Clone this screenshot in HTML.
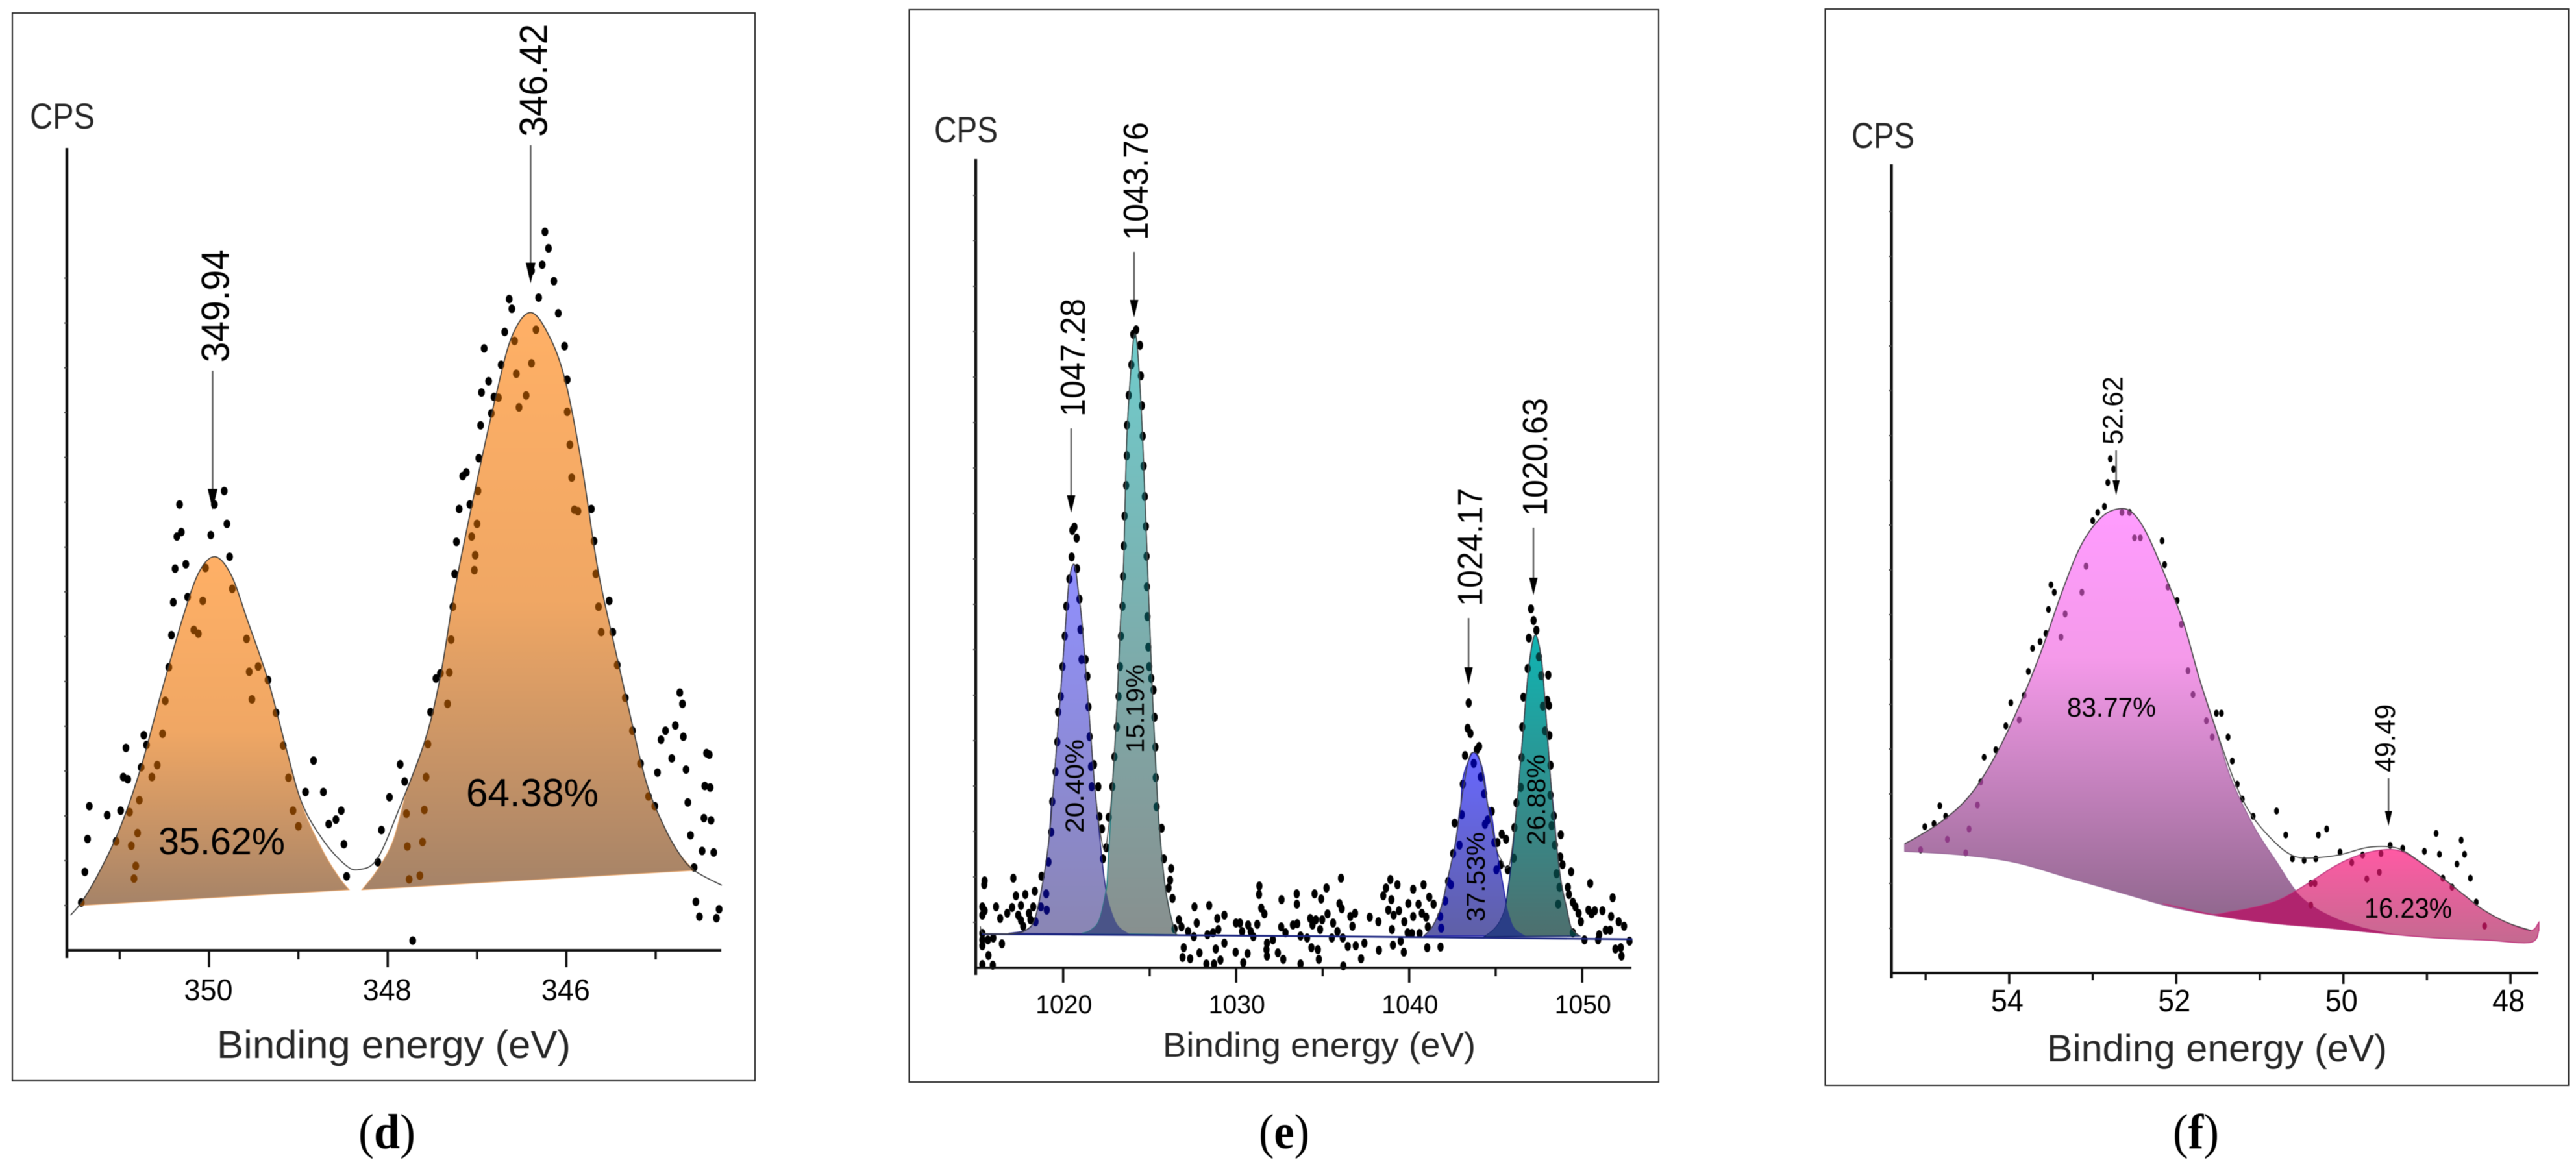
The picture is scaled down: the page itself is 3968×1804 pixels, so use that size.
<!DOCTYPE html>
<html lang="en">
<head>
<meta charset="utf-8">
<title>XPS binding energy spectra (d), (e), (f)</title>
<style>
html,body{margin:0;padding:0;background:#fff;}
body{width:3968px;height:1804px;overflow:hidden;position:relative;}
svg{position:absolute;left:0;top:0;display:block;filter:blur(0.6px);}
text{font-family:"Liberation Sans",Arial,sans-serif;fill:#000;}
.axis-title{fill:#262626;}
.caption{font-family:"Liberation Serif",serif;font-size:76px;}
.caption tspan{font-weight:bold;}
</style>
</head>
<body>
<svg id="chart" width="3968" height="1804" viewBox="0 0 3968 1804" xmlns="http://www.w3.org/2000/svg">
<defs>
<linearGradient id="gradOrange" x1="0" y1="0" x2="0" y2="1"><stop offset="0" stop-color="#FFB066"/><stop offset="0.5" stop-color="#F0A764"/><stop offset="1" stop-color="#A58368"/></linearGradient>
<linearGradient id="gradBlueA" x1="0" y1="0" x2="0" y2="1"><stop offset="0" stop-color="#9090FF"/><stop offset="1" stop-color="#8A86B4"/></linearGradient>
<linearGradient id="gradTealB" x1="0" y1="0" x2="0" y2="1"><stop offset="0" stop-color="#70CCCC"/><stop offset="1" stop-color="#88908F"/></linearGradient>
<linearGradient id="gradBlueC" x1="0" y1="0" x2="0" y2="1"><stop offset="0" stop-color="#6868FF"/><stop offset="1" stop-color="#5F60A6"/></linearGradient>
<linearGradient id="gradTealD" x1="0" y1="0" x2="0" y2="1"><stop offset="0" stop-color="#10B4B2"/><stop offset="1" stop-color="#4E6F6E"/></linearGradient>
<linearGradient id="gradPink" x1="0" y1="0" x2="0" y2="1"><stop offset="0" stop-color="#FF9CFF"/><stop offset="0.35" stop-color="#F59AEA"/><stop offset="1" stop-color="#8A6488"/></linearGradient>
<linearGradient id="gradRose" x1="0" y1="0" x2="0" y2="1"><stop offset="0" stop-color="#FF5AA4"/><stop offset="1" stop-color="#C46A90"/></linearGradient>
</defs>

<g id="panel-d">
<rect x="19" y="20" width="1144" height="1645" fill="#fff" stroke="#222" stroke-width="2"/>
<text class="axis-title" x="46" y="198" font-size="56" textLength="100" lengthAdjust="spacingAndGlyphs">CPS</text>
<text class="axis-title" x="334" y="1630" font-size="60" textLength="545" lengthAdjust="spacingAndGlyphs">Binding energy (eV)</text>
</g>
<g id="panel-e">
<rect x="1400.5" y="15" width="1154.5" height="1652" fill="#fff" stroke="#222" stroke-width="2"/>
<text class="axis-title" x="1439" y="219" font-size="56" textLength="98" lengthAdjust="spacingAndGlyphs">CPS</text>
<text class="axis-title" x="1791" y="1628" font-size="53" textLength="482" lengthAdjust="spacingAndGlyphs">Binding energy (eV)</text>
</g>
<g id="panel-f">
<rect x="2811.5" y="14" width="1145" height="1658" fill="#fff" stroke="#222" stroke-width="2"/>
<text class="axis-title" x="2852" y="228" font-size="56" textLength="97" lengthAdjust="spacingAndGlyphs">CPS</text>
<text class="axis-title" x="3153" y="1635" font-size="58" textLength="524" lengthAdjust="spacingAndGlyphs">Binding energy (eV)</text>
</g>

<text class="caption" x="552" y="1769" textLength="88" lengthAdjust="spacingAndGlyphs">(<tspan>d</tspan>)</text>
<text class="caption" x="1939" y="1769" textLength="78" lengthAdjust="spacingAndGlyphs">(<tspan>e</tspan>)</text>
<text class="caption" x="3347" y="1769" textLength="71" lengthAdjust="spacingAndGlyphs">(<tspan>f</tspan>)</text>
</svg>

<script>
/* ---------- Panel (d) data: [binding energy eV, counts (a.u.)] ---------- */
const dMajorTicks=[350,348,346];
const dMinorTicks=[351,349,347,345];
const dTickLabels=['350','348','346'];
const dCountTicks=[60,120,180,240,300,360,420,480,540,600,660,720,780,840,900];
const dPeakLabels=['349.94','346.42'];
const dPeakEnergy=[349.96,346.40];
const dArrowTail=[776,1078];
const dArrowTip=[590,893];
const dScatter=[[351.39,105],[351.36,149],[351.34,193],[351.14,181],[351.43,64],[351.04,146],[350.99,187],[350.93,271],[350.96,232],[350.91,229],[350.89,185],[350.87,140],[350.82,113],[350.84,96],[350.80,157],[350.78,201],[350.76,245],[350.73,288],[350.70,275],[350.64,232],[350.58,248],[350.52,290],[350.49,334],[350.45,379],[350.42,422],[350.40,466],[350.38,511],[350.36,554],[350.33,597],[350.31,560],[350.26,517],[350.24,473],[350.17,429],[350.12,424],[350.07,468],[350.04,512],[349.98,556],[349.94,597],[349.83,615],[349.80,571],[349.77,527],[349.74,484],[349.58,417],[349.55,373],[349.45,380],[349.34,362],[349.52,336],[349.25,318],[349.17,274],[349.11,231],[349.06,187],[349.00,166],[348.92,212],[348.83,254],[348.72,212],[348.66,169],[348.58,175],[348.52,187],[348.49,142],[348.46,99],[348.11,118],[348.07,161],[347.98,205],[347.86,249],[347.81,226],[347.79,183],[347.78,139],[347.76,95],[347.64,100],[347.61,145],[347.59,188],[347.57,232],[347.55,276],[347.52,319],[347.46,364],[347.41,371],[347.33,330],[347.31,372],[347.29,416],[347.27,460],[347.25,504],[347.03,509],[347.02,529],[347.06,554],[347.00,571],[347.08,597],[347.20,591],[347.23,547],[347.16,635],[347.12,640],[346.99,615],[346.98,659],[346.96,703],[346.95,747],[346.92,806],[346.87,762],[346.84,719],[346.81,741],[346.76,740],[346.73,784],[346.69,828],[346.64,872],[346.61,859],[346.58,816],[346.56,772],[346.53,727],[346.45,743],[346.39,786],[346.34,831],[346.39,910],[346.31,874],[346.27,918],[346.24,962],[346.20,940],[346.14,896],[346.09,853],[346.02,809],[345.99,764],[345.99,721],[345.96,677],[345.94,633],[345.91,590],[345.87,588],[345.72,591],[345.69,548],[345.67,504],[345.64,460],[345.52,468],[345.61,426],[345.48,426],[345.43,382],[345.34,338],[345.26,294],[345.17,250],[345.08,206],[345.01,193],[344.98,238],[344.94,282],[344.89,294],[344.78,301],[344.82,257],[344.73,345],[344.70,330],[344.69,286],[344.66,242],[344.64,198],[344.61,154],[344.57,111],[344.55,65],[344.51,45],[344.48,133],[344.46,177],[344.45,220],[344.43,264],[344.40,262],[344.39,218],[344.38,174],[344.35,131],[344.32,43],[344.29,55],[347.72,13]];
const dEnvelope=[[351.55,47],[351.43,64],[351.25,100],[351.01,160],[350.77,242],[350.53,347],[350.29,447],[350.11,507],[349.93,527],[349.75,502],[349.57,442],[349.34,362],[349.14,272],[348.96,197],[348.72,147],[348.48,115],[348.33,108],[348.12,122],[347.88,187],[347.58,282],[347.41,367],[347.25,482],[347.03,612],[346.79,742],[346.61,822],[346.40,854],[346.19,822],[346.01,762],[345.83,652],[345.65,512],[345.47,412],[345.29,317],[345.11,227],[344.93,172],[344.75,132],[344.57,107],[344.26,87]];
const dPeakLeft=[[351.45,60],[351.43,64],[351.25,100],[351.01,160],[350.77,242],[350.53,347],[350.29,447],[350.11,507],[349.93,527],[349.75,502],[349.57,442],[349.34,362],[349.14,272],[348.96,194],[348.72,132],[348.54,97],[348.43,81]];
const dPeakRight=[[348.29,81],[348.12,107],[347.94,147],[347.79,212],[347.58,282],[347.41,367],[347.25,482],[347.03,612],[346.79,742],[346.61,822],[346.40,854],[346.19,822],[346.01,762],[345.83,652],[345.65,512],[345.47,412],[345.29,317],[345.11,227],[344.93,172],[344.75,132],[344.57,107]];

/* ---------- Panel (e) data ---------- */
const eMajorTicks=[1020,1030,1040,1050];
const eMinorTicks=[1025,1035,1045];
const eTickLabels=['1020','1030','1040','1050'];
const eCountTicks=[70,140,210,280,350,420,490,560,630,700,770,840,910,980,1050,1120,1190];
const ePeakLabels=['1047.28','1043.76','1024.17','1020.63'];
const ePeakEnergy=[1020.46,1024.10,1043.43,1047.18];
const eArrowTail=[831,1103,539,678];
const eArrowTip=[701,1002,436,574];
const eScatter=[[1015.46,134],[1015.44,128],[1017.12,138],[1018.75,141],[1019.15,163],[1019.31,209],[1019.37,256],[1022.84,279],[1022.09,233],[1022.63,232],[1022.24,214],[1022.49,185],[1022.30,168],[1025.40,248],[1025.69,215],[1025.82,168],[1026.24,153],[1026.18,135],[1026.09,123],[1026.32,107],[1031.34,126],[1031.32,113],[1032.62,105],[1033.50,114],[1033.51,98],[1031.45,92],[1031.63,83],[1027.59,94],[1028.44,96],[1029.32,81],[1028.91,76],
[1017.27,111],[1017.81,113],[1018.36,118],[1019.02,114],[1018.71,94],[1019.05,89],[1016.12,94],[1015.33,94],[1015.46,88],[1015.33,81],[1017.05,93],[1016.77,84],[1016.36,76],[1017.56,96],[1017.40,81],[1017.56,73],[1017.69,64],[1018.02,84],[1018.11,74],[1018.27,94],[1018.40,71],
[1015.33,53],[1015.33,43],[1015.33,34],[1015.65,43],[1015.96,46],[1016.46,37],[1015.68,19],[1015.33,5],[1015.93,4],
[1026.44,60],[1026.69,74],[1026.84,63],[1027.22,56],[1027.55,48],[1027.72,69],[1028.34,51],[1028.66,54],[1028.97,59],[1029.99,69],[1030.22,69],[1030.34,56],[1030.69,66],[1030.84,56],[1030.99,48],[1031.22,67],[1031.78,38],[1032.12,43],[1031.75,28],[1031.78,18],[1032.41,23],[1032.72,13],[1026.97,31],[1026.90,16],[1027.34,14],[1027.88,23],[1028.82,29],[1029.32,38],[1029.97,24],[1030.66,22],[1028.28,6],[1028.72,6],[1029.09,12],[1030.41,8],[1032.60,63],[1032.85,54],[1033.28,66],[1033.53,68],
[1034.53,114],[1035.22,123],[1034.91,106],[1036.06,138],[1035.97,99],[1036.10,91],[1034.28,76],[1034.60,74],[1034.41,66],[1034.97,74],[1035.28,83],[1034.85,59],[1035.60,69],[1035.85,56],[1035.53,46],[1036.16,46],[1033.72,49],[1034.10,46],[1034.35,31],[1034.72,28],[1034.78,13],[1033.72,6],[1036.19,3],[1036.60,79],[1036.87,84],[1036.72,64],[1036.45,33],[1036.91,34],[1037.41,38],[1037.22,14],[1037.72,78],[1038.22,71],[1038.25,27],[1038.91,136],[1039.32,128],[1038.66,123],[1038.50,111],[1038.97,105],[1038.79,89],[1039.10,81],[1039.41,88],[1039.00,59],[1039.72,71],[1039.95,99],[1040.23,121],[1040.83,128],[1041.16,109],[1041.41,98],[1040.54,98],[1040.23,79],[1040.73,84],[1040.98,78],[1041.08,63],[1039.91,54],[1040.16,53],[1040.60,53],[1039.51,41],[1039.06,35],[1039.69,24],[1041.04,31],[1041.81,32],[1041.85,61],[1041.79,79],[1042.08,103],[1042.25,133],[1042.41,128],[1042.54,176],[1042.63,223],[1042.91,189],[1043.04,236],[1043.10,283],[1044.33,268],[1044.77,241],[1044.54,228],[1044.38,221],[1044.92,193],[1045.10,193],[1045.35,206],[1045.60,198],[1045.29,159],[1045.04,151],[1045.70,151],[1046.04,169],[1046.08,216],[1046.20,254],[1048.17,266],[1048.36,234],[1048.23,219],[1048.76,205],[1048.42,189],[1048.73,171],[1048.86,159],[1048.52,145],[1049.36,148],[1048.69,124],[1049.17,124],[1049.23,113],[1048.61,98],[1049.46,101],[1049.61,94],[1049.79,84],[1049.92,71],[1049.46,54],[1050.46,130],[1050.36,89],[1050.54,83],[1050.73,88],[1051.17,88],[1051.76,108],[1051.67,79],[1052.11,71],[1052.42,64],[1051.61,58],[1051.36,58],[1050.98,51],[1050.92,43],[1050.13,43],[1051.92,29],[1052.23,31],[1052.27,18],[1052.73,41],
[1020.65,679],[1020.53,674],[1020.78,662],[1020.49,633],[1020.80,615],[1020.36,599],[1020.94,568],[1020.18,557],[1021.00,521],[1020.09,511],[1021.06,475],[1021.30,475],[1019.96,464],[1021.40,449],[1019.86,418],[1021.46,402],[1019.71,394],[1021.53,356],[1019.66,348],[1021.61,310],[1021.78,313],[1019.56,302],[1021.65,279],[1022.03,279],
[1024.22,983],[1024.05,976],[1024.44,959],[1023.94,929],[1024.49,912],[1023.79,882],[1024.55,866],[1023.69,836],[1024.60,819],[1023.68,789],[1024.65,773],[1023.64,743],[1024.72,726],[1023.55,696],[1024.78,680],[1023.50,650],[1024.82,634],[1023.46,603],[1024.84,587],[1023.43,557],[1024.87,541],[1023.34,511],[1024.92,494],[1023.28,464],[1024.97,464],[1025.09,446],[1025.22,428],[1023.20,418],[1025.28,386],[1023.10,371],[1025.33,340],[1022.96,325],[1025.35,293],
[1043.44,408],[1043.38,369],[1043.54,361],[1044.04,341],[1043.91,336],[1043.23,327],[1043.73,315],[1044.14,294],
[1047.04,553],[1047.19,535],[1047.35,520],[1046.92,508],[1047.50,479],[1046.85,461],[1047.63,450],[1048.04,451],[1046.60,417],[1047.98,412],[1048.08,404],[1047.73,403],[1046.54,371],[1047.85,365],[1048.10,358],[1046.50,324],[1048.17,312],[1046.45,278]];
const ePeakA=[[1016.84,53],[1017.84,58],[1018.34,74],[1018.77,124],[1019.15,191],[1019.34,258],[1019.46,284],[1020.13,526],[1020.36,599],[1020.65,621],[1020.90,575],[1021.11,526],[1021.46,405],[1021.81,284],[1022.03,224],[1022.28,158],[1022.49,118],[1022.84,84],[1023.21,64],[1023.84,52]];
const ePeakB=[[1021.09,53],[1021.59,58],[1022.09,74],[1022.49,121],[1022.59,158],[1022.84,279],[1022.96,325],[1023.10,400],[1023.30,526],[1023.49,623],[1023.68,817],[1023.96,938],[1024.15,977],[1024.34,938],[1024.59,817],[1024.87,623],[1025.15,429],[1025.47,251],[1025.53,224],[1025.90,124],[1026.40,61],[1026.59,51]];
const ePeakC=[[1040.85,49],[1041.35,64],[1041.85,94],[1042.23,138],[1042.66,191],[1042.91,241],[1042.98,251],[1043.10,291],[1043.41,318],[1043.73,332],[1044.10,318],[1044.35,291],[1044.54,251],[1044.73,241],[1045.04,184],[1045.42,128],[1045.60,101],[1045.79,81],[1046.10,61],[1046.73,49]];
const ePeakD=[[1044.35,48],[1044.85,58],[1045.23,71],[1045.54,91],[1045.67,114],[1045.92,164],[1046.10,218],[1046.29,270],[1046.73,411],[1046.98,478],[1047.29,513],[1047.63,478],[1047.85,411],[1048.17,291],[1048.36,241],[1048.54,184],[1048.79,131],[1049.11,91],[1049.38,61],[1049.86,49]];
const eEnvelope=[[1015.21,64],[1015.33,54],[1015.96,52],[1017.21,53],[1017.84,58],[1018.34,74],[1018.77,124],[1019.15,191],[1019.46,284],[1020.13,526],[1020.36,599],[1020.65,621],[1020.90,575],[1021.11,526],[1021.46,405],[1021.81,284],[1022.10,215],[1022.40,181],[1022.62,215],[1022.84,279],[1023.10,400],[1023.30,526],[1023.49,623],[1023.68,817],[1023.96,938],[1024.15,977],[1024.34,938],[1024.59,817],[1024.87,623],[1025.15,429],[1025.47,251],[1025.90,124],[1026.40,61],[1026.59,50]];
const eEnvelopeRight=[[1040.85,49],[1041.35,64],[1041.85,94],[1042.23,138],[1042.66,191],[1042.98,251],[1043.41,318],[1043.73,332],[1044.10,318],[1044.54,251],[1045.04,184],[1045.35,165],[1045.60,154],[1045.85,165],[1046.10,218],[1046.29,270],[1046.73,411],[1046.98,478],[1047.29,513],[1047.63,478],[1047.85,411],[1048.17,291],[1048.54,184],[1048.79,131],[1049.11,91],[1049.38,61],[1049.86,49]];
const eBaseline=[[1015.3,52],[1033,49],[1052.9,44]];

/* ---------- Panel (f) data ---------- */
const fMajorTicks=[54,52,50,48];
const fMinorTicks=[55,53,51,49];
const fTickLabels=['54','52','50','48'];
const fCountTicks=[60,120,180,240,300,360,420,480,540,600,660,720,780,840,900,960,1020];
const fPeakLabels=['52.62','49.49'];
const fPeakEnergy=[52.72,49.46];
const fArrowTail=[700,261];
const fArrowTip=[640,197];
const fScatter=[[55.06,165],[55.01,196],[54.90,200],[54.83,224],[54.76,210],[54.74,179],[54.52,161],[54.48,193],[54.38,225],[54.34,256],[54.30,289],[54.16,299],[54.04,331],[53.98,362],[53.88,339],[53.82,372],[53.77,404],[53.72,435],[53.63,444],[53.56,455],[53.53,487],[53.50,520],[53.46,510],[53.38,450],[53.33,481],[53.13,510],[53.08,545],[53.00,606],[52.94,617],[52.86,625],[52.82,657],[52.79,689],[52.75,675],[52.65,617],[52.56,617],[52.50,583],[52.43,583],[52.17,579],[52.14,547],[52.10,517],[51.99,499],[51.94,467],[51.86,405],[51.80,373],[51.64,338],[51.57,316],[51.52,348],[51.46,348],[51.38,316],[51.33,284],[51.27,253],[51.21,233],[51.08,210],[50.80,217],[50.69,185],[50.61,153],[50.47,151],[50.33,153],[50.30,185],[50.20,193],[50.04,162],[49.90,148],[49.77,158],[49.72,126],[49.57,135],[49.55,160],[49.44,171],[49.29,167],[49.03,163],[48.89,187],[48.85,159],[48.81,127],[48.70,115],[48.64,146],[48.59,178],[48.55,159],[48.48,127],[48.41,95],[48.31,63],[50.39,120],[50.34,120],[50.39,91]];
const fPeakMain=[[55.25,173],[55.06,185],[54.81,203],[54.55,228],[54.34,258],[54.11,303],[53.86,363],[53.61,433],[53.36,513],[53.14,573],[52.92,608],[52.73,621],[52.54,618],[52.35,588],[52.10,523],[51.91,468],[51.72,393],[51.53,328],[51.35,262],[51.07,196],[50.79,147],[50.57,110],[50.34,88],[50.06,72],[49.73,60],[49.39,52]];
const fPeakMainBase=[[49.39,52],[49.52,53],[50.15,60],[50.78,66],[51.41,75],[52.04,88],[52.67,108],[53.30,128],[53.92,148],[54.55,158],[55.25,163]];
const fPeakMinor=[[52.16,93],[51.62,79],[51.35,82],[51.07,88],[50.79,97],[50.57,110],[50.34,126],[50.09,144],[49.81,158],[49.53,165],[49.31,163],[49.06,147],[48.81,127],[48.55,104],[48.33,85],[48.05,68],[47.76,57],[47.66,68]];
const fPeakMinorBase=[[47.66,57],[47.76,41],[48.27,44],[48.89,47],[49.52,53],[50.15,60],[50.78,66],[51.41,75],[52.16,93]];
const fEnvelope=[[55.25,173],[55.06,185],[54.81,203],[54.55,228],[54.34,258],[54.11,303],[53.86,363],[53.61,433],[53.36,513],[53.14,573],[52.92,608],[52.73,621],[52.54,618],[52.35,588],[52.10,523],[51.91,468],[51.72,393],[51.53,328],[51.29,253],[51.09,210],[50.82,175],[50.62,158],[50.42,154],[50.06,158],[49.72,168],[49.44,169],[49.27,163],[49.06,147],[48.81,127],[48.55,104],[48.33,85],[48.05,68],[47.76,57]];

/* ---------- drawing ---------- */
const SVG_NS='http://www.w3.org/2000/svg';
function mk(parent,tag,attrs){
  const el=document.createElementNS(SVG_NS,tag);
  for(const k in attrs){el.setAttribute(k,attrs[k]);}
  parent.appendChild(el);
  return el;
}
function fmt(v){return Math.round(v*100)/100;}
function smoothPath(panel,points,joiner){
  const pts=points.map(p=>[panel.x(p[0]),panel.y(p[1])]);
  let d=joiner+' '+fmt(pts[0][0])+' '+fmt(pts[0][1]);
  for(let i=0;i<pts.length-1;i++){
    const p0=pts[Math.max(0,i-1)],p1=pts[i],p2=pts[i+1],p3=pts[Math.min(pts.length-1,i+2)];
    const c1x=p1[0]+(p2[0]-p0[0])/6,c1y=p1[1]+(p2[1]-p0[1])/6;
    const c2x=p2[0]-(p3[0]-p1[0])/6,c2y=p2[1]-(p3[1]-p1[1])/6;
    d+=' C '+fmt(c1x)+' '+fmt(c1y)+' '+fmt(c2x)+' '+fmt(c2y)+' '+fmt(p2[0])+' '+fmt(p2[1]);
  }
  return d;
}
function areaPath(panel,top,bottom){
  let d=smoothPath(panel,top,'M');
  if(bottom){d+=' '+smoothPath(panel,bottom,'L');}
  return d+' Z';
}
function drawDots(parent,panel,points,color){
  for(const pt of points){
    const dot=mk(parent,'ellipse',{cx:fmt(panel.x(pt[0])),cy:fmt(panel.y(pt[1])),rx:panel.rx,ry:panel.ry,fill:color});
    
    
  }
}
function drawPanel(panel){
  const root=document.getElementById(panel.id);
  const defs=document.querySelector('defs');

  const raw=mk(root,'g',{});
  
  
  drawDots(raw,panel,panel.scatter,'#000');

  panel.peaks.forEach(function(pk,i){
    const path=areaPath(panel,pk.top,pk.bottom);
    pk.path=path;
    pk.clipId=panel.id+'-clip-'+i;
    const cp=mk(defs,'clipPath',{id:pk.clipId});
    mk(cp,'path',{d:path});
    const area=mk(root,'path',{d:path,fill:pk.fill,stroke:pk.edge,'stroke-width':pk.edgeWidth});
    
    
  });
  panel.overlaps.forEach(function(ov){
    const over=mk(root,'path',{d:panel.peaks[ov.a].path,'clip-path':'url(#'+panel.peaks[ov.b].clipId+')',fill:ov.fill});
    
    
  });
  panel.peaks.forEach(function(pk){
    const tinted=mk(root,'g',{'clip-path':'url(#'+pk.clipId+')'});
    
    
    drawDots(tinted,panel,panel.scatter,pk.dot);
  });
  panel.lines.forEach(function(ln){
    const line=mk(root,'path',{d:smoothPath(panel,ln.points,'M'),fill:'none',stroke:ln.color,'stroke-width':ln.width});
    
    
  });

  /* axes */
  const yAxis=mk(root,'line',{x1:panel.x0,x2:panel.x0,y1:panel.yTop,y2:panel.yBottom,stroke:'#111','stroke-width':4.4});
  
  
  const xAxis=mk(root,'line',{x1:panel.x0,x2:panel.xEnd,y1:panel.y(0),y2:panel.y(0),stroke:'#111','stroke-width':4});
  
  
  panel.countTicks.forEach(function(c){
    const nub=mk(root,'line',{x1:panel.x0-4,x2:panel.x0,y1:fmt(panel.y(c)),y2:fmt(panel.y(c)),stroke:'#444','stroke-width':2});
    
    
  });
  panel.minor.forEach(function(v){
    const t=mk(root,'line',{x1:fmt(panel.x(v)),x2:fmt(panel.x(v)),y1:panel.y(0),y2:panel.y(0)+panel.minorLen,stroke:'#111','stroke-width':3.4});
    
    
  });
  panel.major.forEach(function(v,i){
    const t=mk(root,'line',{x1:fmt(panel.x(v)),x2:fmt(panel.x(v)),y1:panel.y(0),y2:panel.y(0)+panel.majorLen,stroke:'#111','stroke-width':3.6});
    
    
    const lab=mk(root,'text',{x:fmt(panel.x(v)+panel.tickDx),y:panel.tickBase,'text-anchor':'middle','font-size':panel.tickFont,textLength:panel.tickWidth,lengthAdjust:'spacingAndGlyphs'});
    
    
    lab.textContent=panel.tickLabels[i];
  });

  /* peak annotations */
  panel.peakLabels.forEach(function(txt,i){
    const ax=panel.x(panel.peakEnergy[i]);
    const tail=panel.y(panel.arrowTail[i]),tip=panel.y(panel.arrowTip[i]);
    const shaft=mk(root,'line',{x1:fmt(ax),x2:fmt(ax),y1:fmt(tail),y2:fmt(tip-panel.headLen+2),stroke:'#666','stroke-width':2.6});
    
    
    const head=mk(root,'polygon',{points:fmt(ax-panel.headW/2)+','+fmt(tip-panel.headLen)+' '+fmt(ax+panel.headW/2)+','+fmt(tip-panel.headLen)+' '+fmt(ax)+','+fmt(tip),fill:'#000'});
    
    
    const lx=fmt(ax+panel.labelDx),ly=fmt(tail-panel.labelGap);
    const lab=mk(root,'text',{x:lx,y:ly,transform:'rotate(-90 '+lx+' '+ly+')','font-size':panel.labelFont,textLength:panel.labelLen,lengthAdjust:'spacingAndGlyphs'});
    
    
    lab.textContent=txt;
  });

  /* percentage labels */
  panel.percents.forEach(function(pc){
    const attrs={x:pc.x,y:pc.y,'font-size':pc.size,textLength:pc.len,lengthAdjust:'spacingAndGlyphs'};
    if(pc.rot){attrs.transform='rotate(-90 '+pc.x+' '+pc.y+')';}
    const lab=mk(root,'text',attrs);
    
    
    lab.textContent=pc.text;
  });
}

drawPanel({
  id:'panel-d',
  x:function(ev){return 322+(350-ev)*137.6;},
  y:function(c){return 1464-c*1.1505;},
  x0:103,xEnd:1111,yTop:228,yBottom:1476,rx:5.2,ry:6.6,
  scatter:dScatter,
  peaks:[
    {top:dPeakLeft,fill:'url(#gradOrange)',edge:'#F0A868',edgeWidth:1,dot:'#7A3C00'},
    {top:dPeakRight,fill:'url(#gradOrange)',edge:'#F0A868',edgeWidth:1,dot:'#7A3C00'}
  ],
  overlaps:[],
  lines:[{points:dEnvelope,color:'#333',width:1.6}],
  major:dMajorTicks,minor:dMinorTicks,tickLabels:dTickLabels,countTicks:dCountTicks,
  majorLen:26,minorLen:14,tickFont:46,tickWidth:75,tickBase:1541,tickDx:-1,
  peakLabels:dPeakLabels,peakEnergy:dPeakEnergy,arrowTail:dArrowTail,arrowTip:dArrowTip,
  headLen:32,headW:15,labelDx:25,labelGap:13,labelFont:60,labelLen:174,
  percents:[
    {text:'35.62%',x:244,y:1316,size:58,len:195},
    {text:'64.38%',x:718,y:1242,size:60,len:204}
  ]
});

drawPanel({
  id:'panel-e',
  x:function(ev){return 1637.7+(ev-1020)*26.65;},
  y:function(c){return 1491-c;},
  x0:1503,xEnd:2513,yTop:245,yBottom:1502,rx:4.8,ry:7,
  scatter:eScatter,
  peaks:[
    {top:ePeakA,fill:'url(#gradBlueA)',edge:'#26267E',edgeWidth:1.6,dot:'#06066E'},
    {top:ePeakB,fill:'url(#gradTealB)',edge:'#1E7C80',edgeWidth:1.6,dot:'#063F42'},
    {top:ePeakC,fill:'url(#gradBlueC)',edge:'#1A1AA8',edgeWidth:1.6,dot:'#00008C'},
    {top:ePeakD,fill:'url(#gradTealD)',edge:'#10206E',edgeWidth:1.6,dot:'#053C3C'}
  ],
  overlaps:[{a:0,b:1,fill:'#4A5488'},{a:2,b:3,fill:'#2A3E86'}],
  lines:[
    {points:eBaseline,color:'#1B2580',width:2.8},
    {points:eEnvelope,color:'#444',width:1.5},
    {points:eEnvelopeRight,color:'#444',width:1.5}
  ],
  major:eMajorTicks,minor:eMinorTicks,tickLabels:eTickLabels,countTicks:eCountTicks,
  majorLen:23,minorLen:13,tickFont:40,tickWidth:87,tickBase:1561,tickDx:1,
  peakLabels:ePeakLabels,peakEnergy:ePeakEnergy,arrowTail:eArrowTail,arrowTip:eArrowTip,
  headLen:27,headW:13,labelDx:21,labelGap:18,labelFont:54,labelLen:182,
  percents:[
    {text:'20.40%',x:1669,y:1283,size:40,len:144,rot:true},
    {text:'15.19%',x:1762,y:1160,size:39,len:136,rot:true},
    {text:'37.53%',x:2287,y:1420,size:40,len:138,rot:true},
    {text:'26.88%',x:2380,y:1302,size:40,len:140,rot:true}
  ]
});

drawPanel({
  id:'panel-f',
  x:function(ev){return 3609.7+(50-ev)*128.7;},
  y:function(c){return 1499-c*1.15;},
  x0:2913.5,xEnd:3910,yTop:253,yBottom:1507,rx:3.7,ry:5.4,
  scatter:fScatter,
  peaks:[
    {top:fPeakMain,bottom:fPeakMainBase,fill:'url(#gradPink)',edge:'#9A6A9A',edgeWidth:1.6,dot:'#8E3A86'},
    {top:fPeakMinor,bottom:fPeakMinorBase,fill:'url(#gradRose)',edge:'#C03A80',edgeWidth:1.6,dot:'#A0104E'}
  ],
  overlaps:[{a:0,b:1,fill:'#B0246E'}],
  lines:[{points:fEnvelope,color:'#444',width:1.6}],
  major:fMajorTicks,minor:fMinorTicks,tickLabels:fTickLabels,countTicks:fCountTicks,
  majorLen:17,minorLen:11,tickFont:48,tickWidth:50,tickBase:1558,tickDx:-3,
  peakLabels:fPeakLabels,peakEnergy:fPeakEnergy,arrowTail:fArrowTail,arrowTip:fArrowTip,
  headLen:23,headW:11,labelDx:10,labelGap:9,labelFont:44,labelLen:105,
  percents:[
    {text:'83.77%',x:3184,y:1104,size:42,len:137},
    {text:'16.23%',x:3642,y:1414,size:44,len:135}
  ]
});
</script>
</body>
</html>
